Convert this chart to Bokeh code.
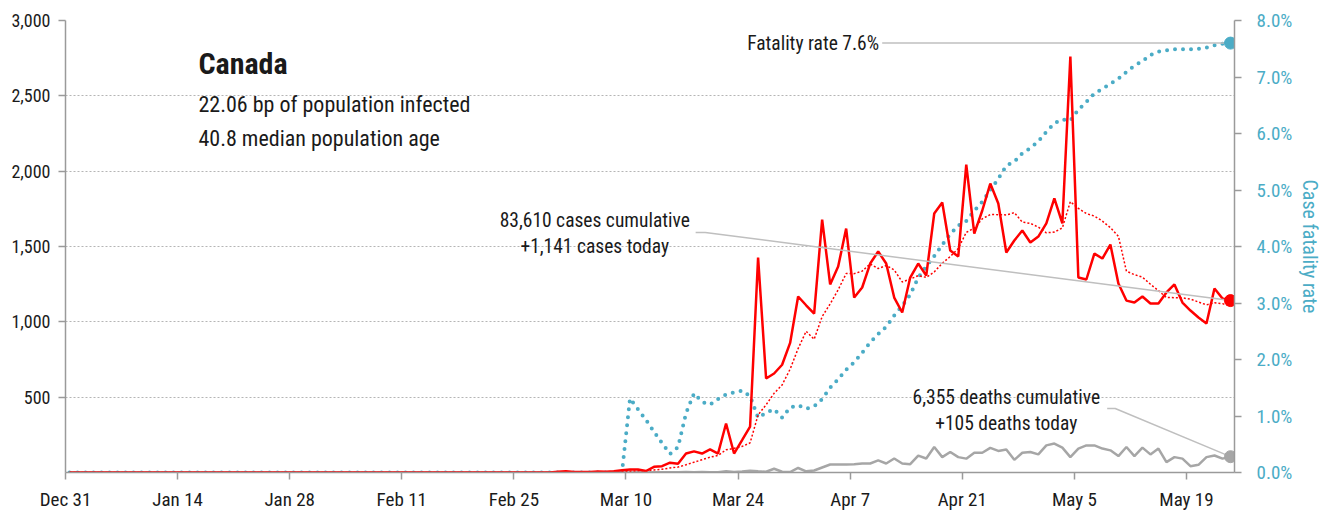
import pandas as pd
from bokeh.plotting import figure
from bokeh.models import (Range1d, LinearAxis, FixedTicker, NumeralTickFormatter,
                          ColumnDataSource, Label)
from bokeh.embed import file_html
from bokeh.resources import INLINE

# ---------------- data ----------------
dates = pd.date_range("2019-12-31", "2020-05-24", freq="D")   # 146 days

# daily new cases: Dec 31 .. Feb 29 are zero
daily_cases = [0] * 61 + [
    5, 8, 3, 3, 4, 6, 5, 8, 15,                                   # Mar 1 - Mar 9
    20, 20, 10, 38, 42, 65, 58, 126, 140, 126,                    # Mar 10 - 19
    153, 126, 325, 126, 215, 305, 1427, 624, 657, 715,            # Mar 20 - 29
    860, 1168, 1110, 1055, 1679, 1248, 1367, 1619, 1161, 1228,    # Mar 30 - Apr 8
    1387, 1467, 1387, 1161, 1062, 1294, 1387, 1307, 1719, 1792,   # Apr 9 - 18
    1473, 1434, 2044, 1586, 1739, 1918, 1785, 1460, 1540, 1606,   # Apr 19 - 28
    1527, 1566, 1653, 1819, 1653, 2761, 1294, 1281, 1453, 1420,   # Apr 29 - May 8
    1513, 1254, 1141, 1128, 1168, 1122, 1122, 1195, 1248, 1128,   # May 9 - 18
    1075, 1029, 989, 1221, 1155, 1141,                            # May 19 - 24
]

# daily new deaths: Dec 31 .. Mar 8 are zero
daily_deaths = [0] * 69 + [
    1, 0, 1, 0, 1, 1, 2, 1, 4, 2, 3,
    1, 2, 8, 3, 6, 12, 8, 5, 25, 5,
    3, 30, 8, 13, 33, 53, 53, 53, 55, 60,
    60, 80, 60, 93, 60, 55, 112, 93, 169, 102,
    136, 102, 92, 131, 131, 163, 143, 152, 84, 131,
    136, 120, 180, 192, 165, 102, 159, 180, 180, 159,
    147, 109, 169, 109, 165, 120, 159, 69, 102, 92,
    42, 51, 102, 113, 92, 105,
]

# case fatality rate in percent: Dec 31 .. Mar 8 are zero
fatality_pct = [0] * 69 + [
    0, 1.31, 1.12, 0.93, 0.72, 0.52, 0.33, 0.45, 1.05, 1.40, 1.25,
    1.20, 1.30, 1.38, 1.42, 1.45, 1.35, 0.97, 1.06, 1.12, 0.97,
    1.15, 1.19, 1.13, 1.17, 1.30, 1.50, 1.65, 1.82, 1.95, 2.12,
    2.30, 2.45, 2.58, 2.78, 2.95, 3.15, 3.45, 3.65, 3.83, 4.03,
    4.22, 4.37, 4.45, 4.63, 4.79, 5.00, 5.20, 5.43, 5.50, 5.65,
    5.74, 5.86, 6.03, 6.18, 6.25, 6.23, 6.42, 6.56, 6.71, 6.79,
    6.88, 6.97, 7.09, 7.20, 7.28, 7.39, 7.45, 7.47, 7.49, 7.49,
    7.49, 7.50, 7.52, 7.56, 7.59, 7.60,
]

tick_days = [0, 14, 28, 42, 56, 70, 84, 98, 112, 126, 140]
tick_labels = ["Dec 31", "Jan 14", "Jan 28", "Feb 11", "Feb 25", "Mar 10",
               "Mar 24", "Apr 7", "Apr 21", "May 5", "May 19"]
case_ticks = [500, 1000, 1500, 2000, 2500, 3000]
rate_ticks = [0, 0.01, 0.02, 0.03, 0.04, 0.05, 0.06, 0.07, 0.08]

country = "Canada"
subtitle_1 = "22.06 bp of population infected"
subtitle_2 = "40.8 median population age"
cum_cases = 83610
cum_deaths = 6355

# ---------------- derived ----------------
day = [(d - dates[0]).days + 0.5 for d in dates]          # points at mid-day
avg7 = pd.Series(daily_cases).rolling(7, min_periods=1).mean().tolist()
rate = [v / 100 for v in fatality_pct]
src = ColumnDataSource(dict(day=day, cases=daily_cases, deaths=daily_deaths,
                            avg=avg7, rate=rate))

FONT = "'Liberation Sans Narrow', 'Roboto Condensed', 'DejaVu Sans Condensed', Roboto, sans-serif"
RED = "#ff0000"
CYAN = "#4bacc6"
GREY = "#a6a6a6"
LEAD = "#bfbfbf"
TXT = "#1a1a1a"
AX = "#9a9a9a"

p = figure(frame_width=1169, frame_height=452,
           x_range=Range1d(0, 146), y_range=Range1d(0, 3000),
           output_backend="svg", toolbar_location=None,
           min_border_left=65, min_border_top=20,
           min_border_right=86, min_border_bottom=34)
p.outline_line_color = None
p.extra_y_ranges = {"rate": Range1d(0, 0.08)}

# left axis
ly = p.yaxis[0]
ly.ticker = FixedTicker(ticks=case_ticks)
ly.formatter = NumeralTickFormatter(format="0,0")
ly.major_label_text_font = FONT
ly.major_label_text_font_size = "18px"
ly.major_label_text_color = TXT
ly.axis_line_color = AX
ly.axis_line_width = 1.5
ly.major_tick_line_color = AX
ly.major_tick_line_width = 1.5
ly.major_tick_out = 7
ly.major_tick_in = 0
ly.minor_tick_line_color = None
ly.major_label_standoff = 8

# bottom axis
bx = p.xaxis[0]
bx.ticker = FixedTicker(ticks=tick_days)
bx.major_label_overrides = {d: lab for d, lab in zip(tick_days, tick_labels)}
bx.major_label_text_font = FONT
bx.major_label_text_font_size = "19px"
bx.major_label_text_color = TXT
bx.axis_line_color = AX
bx.axis_line_width = 1.5
bx.major_tick_line_color = AX
bx.major_tick_line_width = 1.5
bx.major_tick_out = 7
bx.major_tick_in = 0
bx.minor_tick_line_color = None
bx.major_label_standoff = 8

# right axis
ry = LinearAxis(y_range_name="rate", ticker=FixedTicker(ticks=rate_ticks),
                formatter=NumeralTickFormatter(format="0.0%"),
                axis_label="Case fatality rate")
ry.major_label_text_font = FONT
ry.major_label_text_font_size = "19px"
ry.major_label_text_color = CYAN
ry.axis_label_text_font = FONT
ry.axis_label_text_font_size = "20px"
ry.axis_label_text_font_style = "normal"
ry.axis_label_text_color = CYAN
ry.axis_label_standoff = 3
ry.axis_line_color = AX
ry.axis_line_width = 1.5
ry.major_tick_line_color = AX
ry.major_tick_line_width = 1.5
ry.major_tick_out = 7
ry.major_tick_in = 0
ry.minor_tick_line_color = None
ry.major_label_standoff = 15
p.add_layout(ry, "right")

p.xgrid.visible = False
p.ygrid.grid_line_color = "#b5b5b5"
p.ygrid.grid_line_dash = "2 2"
p.ygrid.grid_line_width = 1

# ---------------- series ----------------
p.line("day", "deaths", source=src, color=GREY, line_width=2.5)
p.line("day", "rate", source=src, y_range_name="rate", color=CYAN,
       line_width=4, line_dash="0 8", line_cap="round")
p.line("day", "avg", source=src, color=RED, line_width=1.5, line_dash="2 2")
p.line("day", "cases", source=src, color=RED, line_width=2.5)

x_last = day[-1]

# leader lines
p.line([102.0, x_last], [rate[-1], rate[-1]], y_range_name="rate",
       color=LEAD, line_width=1.5)
p.line([78.7, 79.9, x_last], [1593, 1593, daily_cases[-1]], color=LEAD, line_width=1.5)
p.line([130.1, 131.1, x_last], [425, 425, daily_deaths[-1]], color=LEAD, line_width=1.5)

# end dots
p.scatter([x_last], [rate[-1]], y_range_name="rate", size=12, color=CYAN)
p.scatter([x_last], [daily_cases[-1]], size=12, color=RED)
p.scatter([x_last], [daily_deaths[-1]], size=12, color=GREY)

# ---------------- texts ----------------
def lab(text, x, y, size, align="left", style="normal", rng="default", color=TXT):
    p.add_layout(Label(x=x, y=y, text=text, text_font=FONT,
                       text_font_size=size, text_font_style=style,
                       text_color=color, text_align=align,
                       text_baseline="middle", y_range_name=rng))

lab(country, 16.6, 2715, "30px", style="bold")
lab(subtitle_1, 16.6, 2440, "22px")
lab(subtitle_2, 16.6, 2215, "22px")
lab("Fatality rate %.1f%%" % fatality_pct[-1], 101.6, rate[-1], "19.5px",
    align="right", rng="rate")
lab("{:,} cases cumulative".format(cum_cases), 66.1, 1672, "19.5px", align="center")
lab("+{:,} cases today".format(daily_cases[-1]), 66.1, 1500, "19.5px", align="center")
lab("{:,} deaths cumulative".format(cum_deaths), 117.5, 498, "19.5px", align="center")
lab("+{:,} deaths today".format(daily_deaths[-1]), 117.5, 325, "19.5px", align="center")

open("out.html", "w").write(file_html(p, INLINE))
